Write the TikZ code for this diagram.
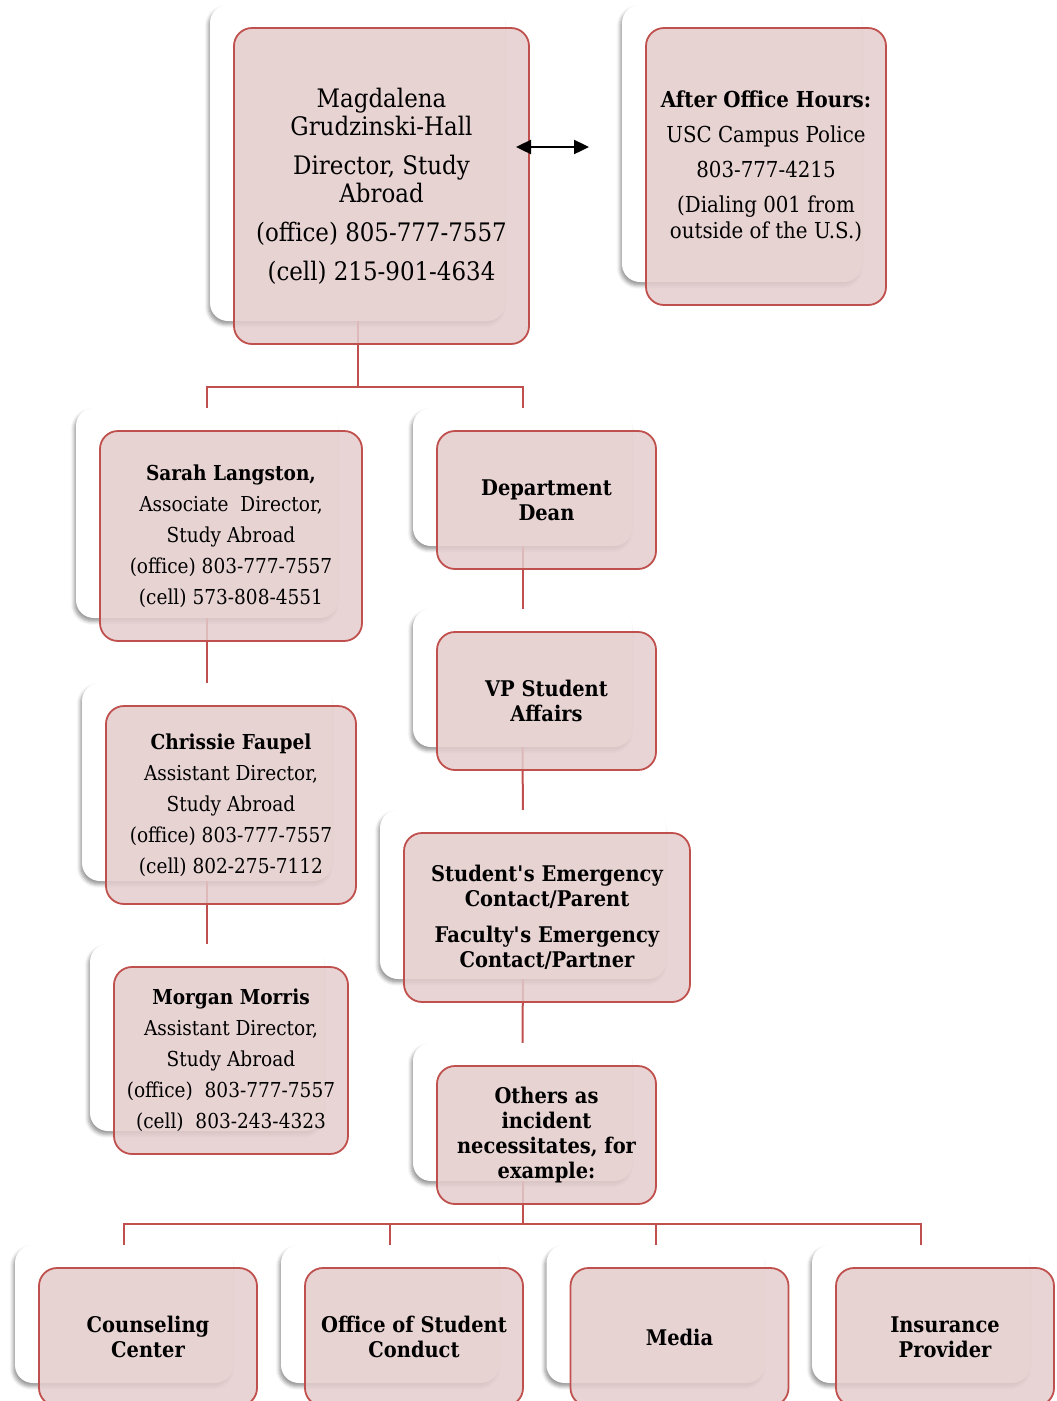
\documentclass[tikz,border=0pt]{standalone}
\usepackage{fontspec}
\setmainfont{DejaVu Serif}[FakeStretch=0.9]
\usepackage{xcolor}
\usepackage{tikz}
\usetikzlibrary{arrows.meta,positioning,shadows.blur}
\definecolor{accent}{RGB}{192,80,77}
\definecolor{blush}{RGB}{228,204,204}

\begin{document}
\begin{tikzpicture}[x=1pt,y=-1pt,
          card/.style={rounded corners=18pt,fill=white,
            blur shadow={shadow xshift=-2pt,shadow yshift=-3.5pt,shadow blur radius=3.5pt,shadow opacity=40}},
          face/.style={rounded corners=18pt,draw=accent,line width=1.8pt,fill=blush,
            fill opacity=0.85,text opacity=1,align=center,inner sep=2pt},
          big/.style={face,font=\fontsize{25.5}{28}\selectfont},
          mid/.style={face,font=\fontsize{22}{26}\selectfont},
          staff/.style={face,font=\fontsize{20.6}{31}\selectfont},
          hd/.style={face,font=\fontsize{21.6}{25}\selectfont\bfseries},
          link/.style={accent,line width=2pt}]
        \useasboundingbox (0,0) rectangle (1057,1401);
        % back cards
        \node[card,minimum width=295pt,minimum height=316pt] (dir) at (357.5,163) {};
        \node[card,minimum width=240pt,minimum height=277pt] (police) at (742,143.5) {};
        \node[card,minimum width=262pt,minimum height=210pt] (sarah) at (207,513) {};
        \node[card,minimum width=250pt,minimum height=198pt] (chrissie) at (207,782) {};
        \node[card,minimum width=234pt,minimum height=187pt] (morgan) at (207,1037.5) {};
        \node[card,minimum width=219pt,minimum height=138pt] (dean) at (522.5,477) {};
        \node[card,minimum width=219pt,minimum height=138pt] (vp) at (522.5,678) {};
        \node[card,minimum width=286pt,minimum height=169pt] (contact) at (523,894.5) {};
        \node[card,minimum width=219pt,minimum height=138pt] (others) at (522.5,1112) {};
        \node[card,minimum width=218pt,minimum height=138pt] (couns) at (124,1314) {};
        \node[card,minimum width=218pt,minimum height=138pt] (conduct) at (390,1314) {};
        \node[card,minimum width=218pt,minimum height=138pt] (media) at (655.5,1314) {};
        \node[card,minimum width=218pt,minimum height=138pt] (insur) at (921,1314) {};
        % connectors
        \draw[link] (dir.south) -- ++(0,66) coordinate (split) -| (sarah.north);
        \draw[link] (split) -| (dean.north);
        \draw[link] (sarah) -- (chrissie);
        \draw[link] (chrissie) -- (morgan);
        \draw[link] (dean) -- (vp);
        \draw[link] (vp) -- (contact);
        \draw[link] (contact) -- (others);
        \draw[link] (others.south) -- ++(0,43) coordinate (fan);
        \foreach \n in {couns,conduct,media,insur}
          \draw[link] (fan) -| (\n.north);
        % front faces
        \node[big,minimum width=295pt,minimum height=316pt] (dirT) at ([shift={(24,23)}]dir.center)
          {Magdalena\\Grudzinski-Hall\\[11pt]Director, Study\\Abroad\\[11pt](office) 805-777-7557\\[11pt](cell) 215-901-4634};
        \node[mid,minimum width=240pt,minimum height=277pt] (policeT) at ([shift={(24,23)}]police.center)
          {\textbf{After Office Hours:}\\[9pt]USC Campus Police\\[9pt]803-777-4215\\[9pt](Dialing 001 from\\outside of the U.S.)};
        \node[staff,minimum width=262pt,minimum height=210pt] (sarahT) at ([shift={(24,23)}]sarah.center)
          {\textbf{Sarah Langston,}\\Associate\ \ Director,\\Study Abroad\\(office) 803-777-7557\\(cell) 573-808-4551};
        \node[staff,minimum width=250pt,minimum height=198pt] (chrissieT) at ([shift={(24,23)}]chrissie.center)
          {\textbf{Chrissie Faupel}\\Assistant Director,\\Study Abroad\\(office) 803-777-7557\\(cell) 802-275-7112};
        \node[staff,minimum width=234pt,minimum height=187pt] (morganT) at ([shift={(24,23)}]morgan.center)
          {\textbf{Morgan Morris}\\Assistant Director,\\Study Abroad\\(office)\ \ 803-777-7557\\(cell)\ \ 803-243-4323};
        \node[hd,minimum width=219pt,minimum height=138pt] (deanT) at ([shift={(24,23)}]dean.center) {Department\\Dean};
        \node[hd,minimum width=219pt,minimum height=138pt] (vpT) at ([shift={(24,23)}]vp.center) {VP Student\\Affairs};
        \node[hd,minimum width=286pt,minimum height=169pt] (contactT) at ([shift={(24,23)}]contact.center)
          {Student\textquotesingle s Emergency\\Contact/Parent\\[11pt]Faculty\textquotesingle s Emergency\\Contact/Partner};
        \node[hd,minimum width=219pt,minimum height=138pt] (othersT) at ([shift={(24,23)}]others.center)
          {Others as\\incident\\necessitates, for\\example:};
        \node[hd,minimum width=218pt,minimum height=138pt] (counsT) at ([shift={(24,23)}]couns.center) {Counseling\\Center};
        \node[hd,minimum width=218pt,minimum height=138pt] (conductT) at ([shift={(24,23)}]conduct.center) {Office of Student\\Conduct};
        \node[hd,minimum width=218pt,minimum height=138pt] (mediaT) at ([shift={(24,23)}]media.center) {Media};
        \node[hd,minimum width=218pt,minimum height=138pt] (insurT) at ([shift={(24,23)}]insur.center) {Insurance\\Provider};
        % two-way arrow
        \coordinate (arrL) at (516,147);
        \coordinate (arrR) at (589,147);
        \draw[{Triangle[length=15pt,width=14pt]}-{Triangle[length=15pt,width=14pt]},line width=2.4pt] (arrL) -- (arrR);
      \end{tikzpicture}
\end{document}
